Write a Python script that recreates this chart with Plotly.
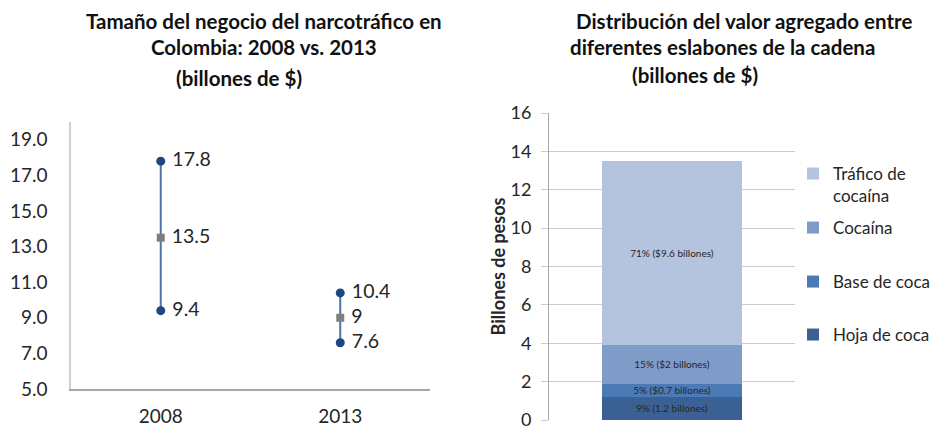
import plotly.graph_objects as go

# ---------------- data ----------------
years = ["2008", "2013"]
size_min = [9.4, 7.6]
size_mean = [13.5, 9.0]
size_max = [17.8, 10.4]

segments = ["Hoja de coca", "Base de coca", "Cocaína", "Tráfico de cocaína"]
segment_values = [1.2, 0.7, 2.0, 9.6]
segment_labels = ["9% (1.2 billones)", "5% ($0.7 billones)", "15% ($2 billones)", "71% ($9.6 billones)"]
legend_names = ["Hoja de coca", "Base de coca", "Cocaína", "Tráfico de<br>cocaína"]
segment_colors = ["#3b6194", "#4a7bb7", "#7f9cc9", "#b4c3de"]

left_ticks = [5, 7, 9, 11, 13, 15, 17, 19]
right_ticks = [0, 2, 4, 6, 8, 10, 12, 14, 16]

W, H = 934, 428
FONT = "Lato"
TXT = "#262626"

def fmt(v):
    return "\u00a0" + f"{v:g}"

fig = go.Figure()

# ---------------- left chart ----------------
lx, ly = [], []
for yr, lo, hi in zip(years, size_min, size_max):
    lx += [yr, yr, None]
    ly += [lo, hi, None]
fig.add_trace(go.Scatter(x=lx, y=ly, mode="lines", line=dict(color="#4f71a3", width=2),
                         xaxis="x", yaxis="y", showlegend=False, hoverinfo="skip"))

ex = years + years
ey = size_max + size_min
fig.add_trace(go.Scatter(x=ex, y=ey, mode="markers+text", text=[fmt(v) for v in ey],
                         textposition="middle right",
                         textfont=dict(family=FONT, size=19.5, color=TXT),
                         marker=dict(symbol="circle", size=9, color="#1f477f"),
                         xaxis="x", yaxis="y", showlegend=False, cliponaxis=False))
fig.add_trace(go.Scatter(x=years, y=size_mean, mode="markers+text", text=[fmt(v) for v in size_mean],
                         textposition="middle right",
                         textfont=dict(family=FONT, size=19.5, color=TXT),
                         marker=dict(symbol="square", size=8, color="#7f7f7f"),
                         xaxis="x", yaxis="y", showlegend=False, cliponaxis=False))

# ---------------- right chart ----------------
legend_ids = ["legend4", "legend3", "legend2", "legend"]
for name, val, lab, lname, col, lid in zip(segments, segment_values, segment_labels,
                                           legend_names, segment_colors, legend_ids):
    fig.add_trace(go.Bar(x=["Total"], y=[val], name=lname, text=[lab],
                         textposition="inside", insidetextanchor="middle",
                         constraintext="none",
                         textfont=dict(family=FONT, size=10, color=TXT),
                         marker=dict(color=col, line=dict(width=0)),
                         xaxis="x2", yaxis="y2", legend=lid, width=0.573))

def px_x(p):
    return p / W

def px_y(p):
    return 1 - p / H

leg_common = dict(font=dict(family=FONT, size=17, color=TXT), bgcolor="rgba(0,0,0,0)",
                  xanchor="left", yanchor="middle", x=px_x(793), itemclick=False)

fig.update_layout(
    width=W, height=H,
    margin=dict(l=0, r=0, t=0, b=0, autoexpand=False),
    paper_bgcolor="white", plot_bgcolor="white",
    barmode="stack",
    font=dict(family=FONT, color=TXT),
    xaxis=dict(domain=[px_x(71), px_x(430)], type="category", categoryorder="array",
               categoryarray=years, range=[-0.5, 1.5], showline=True, linecolor="#a6a6a6",
               linewidth=1.5, showgrid=False, zeroline=False, ticks="",
               tickfont=dict(family=FONT, size=19, color=TXT), ticklabelstandoff=9,
               ticklabeloverflow="allow"),
    yaxis=dict(domain=[px_y(389), px_y(122)], range=[5, 20], tickvals=left_ticks,
               ticktext=[f"{v:.1f}" for v in left_ticks], showline=True, linecolor="#d0d0d0",
               linewidth=1.5, showgrid=False, zeroline=False, ticks="",
               tickfont=dict(family=FONT, size=19, color=TXT), ticklabelstandoff=18),
    xaxis2=dict(domain=[px_x(549), px_x(795)], anchor="y2", showticklabels=False,
                showline=False, showgrid=False, zeroline=False, range=[-0.5, 0.5]),
    yaxis2=dict(domain=[px_y(420), px_y(113)], anchor="x2", range=[0, 16], tickvals=right_ticks,
                showline=True, linecolor="#a6a6a6", linewidth=1, showgrid=True,
                gridcolor="#cccccc", gridwidth=1, zeroline=False, ticks="outside",
                ticklen=7, tickcolor="#cccccc", ticklabeloverflow="allow",
                tickfont=dict(family=FONT, size=18, color=TXT), ticklabelstandoff=6,
                title=dict(text="<b>Billones de pesos</b>", standoff=0,
                           font=dict(family=FONT, size=18, color=TXT))),
    legend=dict(y=px_y(185), valign="top", **leg_common),
    legend2=dict(y=px_y(228), **leg_common),
    legend3=dict(y=px_y(282), **leg_common),
    legend4=dict(y=px_y(335), **leg_common),
)

titles = [
    ("Tamaño del negocio del narcotráfico en", 264, 21),
    ("Colombia: 2008 vs. 2013", 264, 47),
    ("(billones de $)", 239, 78),
    ("Distribución del valor agregado entre", 744, 21),
    ("diferentes eslabones de la cadena", 722, 47),
    ("(billones de $)", 695, 75),
]
for t, x, y in titles:
    fig.add_annotation(text=f"<b>{t}</b>", x=px_x(x), y=px_y(y), xref="paper", yref="paper",
                       xanchor="center", yanchor="middle", showarrow=False,
                       font=dict(family=FONT, size=20.5, color="#111111"))

fig.write_html("out.html", config={"displayModeBar": False},
               post_script="document.body.style.margin='0';document.body.style.overflow='hidden';")
